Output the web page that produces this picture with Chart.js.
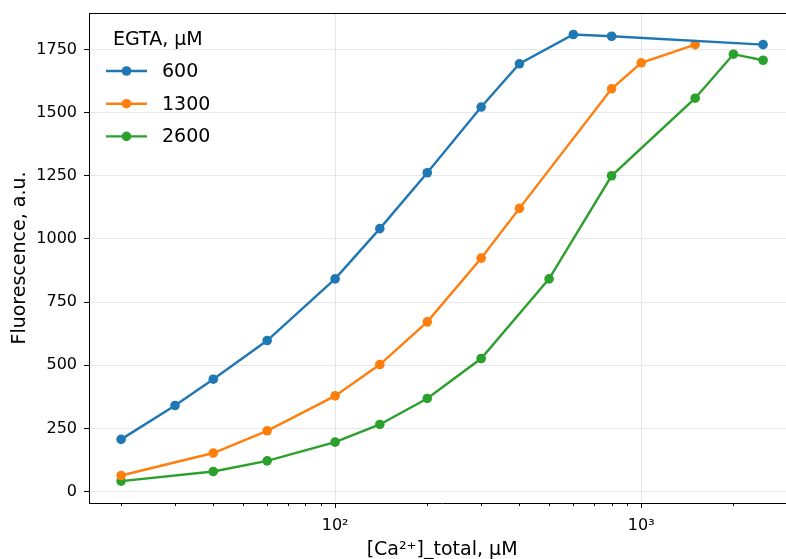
<!DOCTYPE html>
<html>
<head>
<meta charset="utf-8">
<script src="https://cdn.jsdelivr.net/npm/chart.js@4.4.0/dist/chart.umd.min.js"></script>
<style>
  html, body { margin: 0; padding: 0; background: #fff; overflow: hidden; }
  #wrap { width: 800px; height: 561px; }
</style>
</head>
<body>
<div id="wrap"><canvas id="fluoChart" width="800" height="561"></canvas></div>
<script>
// [Ca2+]_total (uM) and fluorescence for each EGTA concentration
const egta600X = [20, 30, 40, 60, 100, 140, 200, 300, 400, 600, 800, 2500];
const egta600Y = [207, 341, 445, 598, 842, 1041, 1262, 1522, 1693, 1809, 1802, 1769];
const egta1300X = [20, 40, 60, 100, 140, 200, 300, 400, 800, 1000, 1500];
const egta1300Y = [64, 153, 241, 379, 503, 672, 924, 1121, 1594, 1697, 1769];
const egta2600X = [20, 40, 60, 100, 140, 200, 300, 500, 800, 1500, 2000, 2500];
const egta2600Y = [42, 80, 122, 196, 266, 369, 527, 842, 1250, 1557, 1731, 1707];

const seriesNames = ["600", "1300", "2600"];
const seriesColors = ["#1f77b4", "#ff7f0e", "#2ca02c"];

const yTicks = [0, 250, 500, 750, 1000, 1250, 1500, 1750];
const xTicks = [20, 30, 40, 50, 60, 70, 80, 90, 100, 200, 300, 400, 500, 600, 700, 800, 900, 1000, 2000];
const xMajorLabels = { 100: "10\u00b2", 1000: "10\u00b3" };

const FONT = "'DejaVu Sans', sans-serif";
Chart.defaults.font.family = FONT;
Chart.defaults.color = "#000";

function toPoints(xs, ys) {
  return xs.map((x, i) => ({ x: x, y: ys[i] }));
}

// top/right spines, short minor ticks on the log axis
const framePlugin = {
  id: "frame",
  afterDraw(chart) {
    const { ctx, chartArea } = chart;
    const xScale = chart.scales.x;
    ctx.save();
    ctx.strokeStyle = "#000";
    ctx.lineWidth = 1;
    ctx.beginPath();
    ctx.moveTo(chartArea.left, Math.round(chartArea.top) + 0.5);
    ctx.lineTo(chartArea.right, Math.round(chartArea.top) + 0.5);
    ctx.moveTo(Math.round(chartArea.right) - 0.5, chartArea.top);
    ctx.lineTo(Math.round(chartArea.right) - 0.5, chartArea.bottom);
    xTicks.forEach((v) => {
      if (xMajorLabels[v]) return;
      const px = Math.round(xScale.getPixelForValue(v)) + 0.5;
      ctx.moveTo(px, chartArea.bottom);
      ctx.lineTo(px, chartArea.bottom + 3);
    });
    ctx.stroke();
    ctx.restore();
  }
};

// legend drawn inside the plot, matplotlib style (line + marker)
const legendPlugin = {
  id: "innerLegend",
  afterDraw(chart) {
    const { ctx, chartArea } = chart;
    const left = chartArea.left;
    const top = chartArea.top;
    ctx.save();
    ctx.font = "19px " + FONT;
    ctx.fillStyle = "#000";
    ctx.textBaseline = "middle";
    ctx.textAlign = "left";
    ctx.fillText("EGTA, \u03bcM", left + 24, top + 27);
    chart.data.datasets.forEach((ds, i) => {
      const y = top + 58 + i * 32.7;
      ctx.strokeStyle = ds.borderColor;
      ctx.lineWidth = 2.4;
      ctx.beginPath();
      ctx.moveTo(left + 17, y);
      ctx.lineTo(left + 58, y);
      ctx.stroke();
      ctx.fillStyle = ds.borderColor;
      ctx.beginPath();
      ctx.arc(left + 37.5, y, 4.8, 0, Math.PI * 2);
      ctx.fill();
      ctx.fillStyle = "#000";
      ctx.fillText(ds.label, left + 73, y + 1);
    });
    ctx.restore();
  }
};

const ctx = document.getElementById("fluoChart");
new Chart(ctx, {
  type: "line",
  data: {
    datasets: [
      { label: seriesNames[0], data: toPoints(egta600X, egta600Y) },
      { label: seriesNames[1], data: toPoints(egta1300X, egta1300Y) },
      { label: seriesNames[2], data: toPoints(egta2600X, egta2600Y) }
    ].map((ds, i) => Object.assign(ds, {
      borderColor: seriesColors[i],
      backgroundColor: seriesColors[i],
      borderWidth: 2.4,
      pointRadius: 4.8,
      pointHoverRadius: 4.8,
      pointBorderWidth: 0,
      tension: 0,
      fill: false
    }))
  },
  options: {
    responsive: false,
    devicePixelRatio: 1,
    animation: false,
    layout: { padding: { left: 0, right: 2, top: 13, bottom: 0 } },
    plugins: {
      legend: { display: false },
      tooltip: { enabled: false }
    },
    scales: {
      x: {
        type: "logarithmic",
        min: 15.71,
        max: 3183,
        afterBuildTicks: (scale) => {
          scale.ticks = xTicks.map((v) => ({ value: v, major: !!xMajorLabels[v] }));
        },
        afterFit: (scale) => {
          scale.height = 58;
          scale.paddingLeft = 0;
          scale.paddingRight = 0;
        },
        border: { display: true, color: "#000", width: 1 },
        grid: {
          color: (c) => (c.tick && xMajorLabels[c.tick.value] ? "rgba(0,0,0,0.09)" : "rgba(0,0,0,0)"),
          tickColor: (c) => (c.tick && xMajorLabels[c.tick.value] ? "#000" : "rgba(0,0,0,0)"),
          tickLength: 5,
          drawTicks: true
        },
        ticks: {
          autoSkip: false,
          maxRotation: 0,
          padding: 8,
          font: { size: 16 },
          callback: (value) => xMajorLabels[value] || ""
        },
        title: {
          display: true,
          text: "[Ca\u00b2\u207a]_total, \u03bcM",
          font: { size: 19 },
          padding: { top: 0, bottom: 0 }
        }
      },
      y: {
        min: -44.7,
        max: 1894,
        afterBuildTicks: (scale) => {
          scale.ticks = yTicks.map((v) => ({ value: v }));
        },
        afterFit: (scale) => {
          scale.width = 89;
          scale.paddingTop = 0;
          scale.paddingBottom = 0;
        },
        border: { display: true, color: "#000", width: 1 },
        grid: {
          color: "rgba(0,0,0,0.09)",
          tickColor: "#000",
          tickLength: 5
        },
        ticks: {
          padding: 7,
          font: { size: 16 },
          callback: (value) => String(value)
        },
        title: {
          display: true,
          text: "Fluorescence, a.u.",
          font: { size: 19 },
          padding: { top: 9, bottom: 0 }
        }
      }
    }
  },
  plugins: [framePlugin, legendPlugin]
});
</script>
</body>
</html>
